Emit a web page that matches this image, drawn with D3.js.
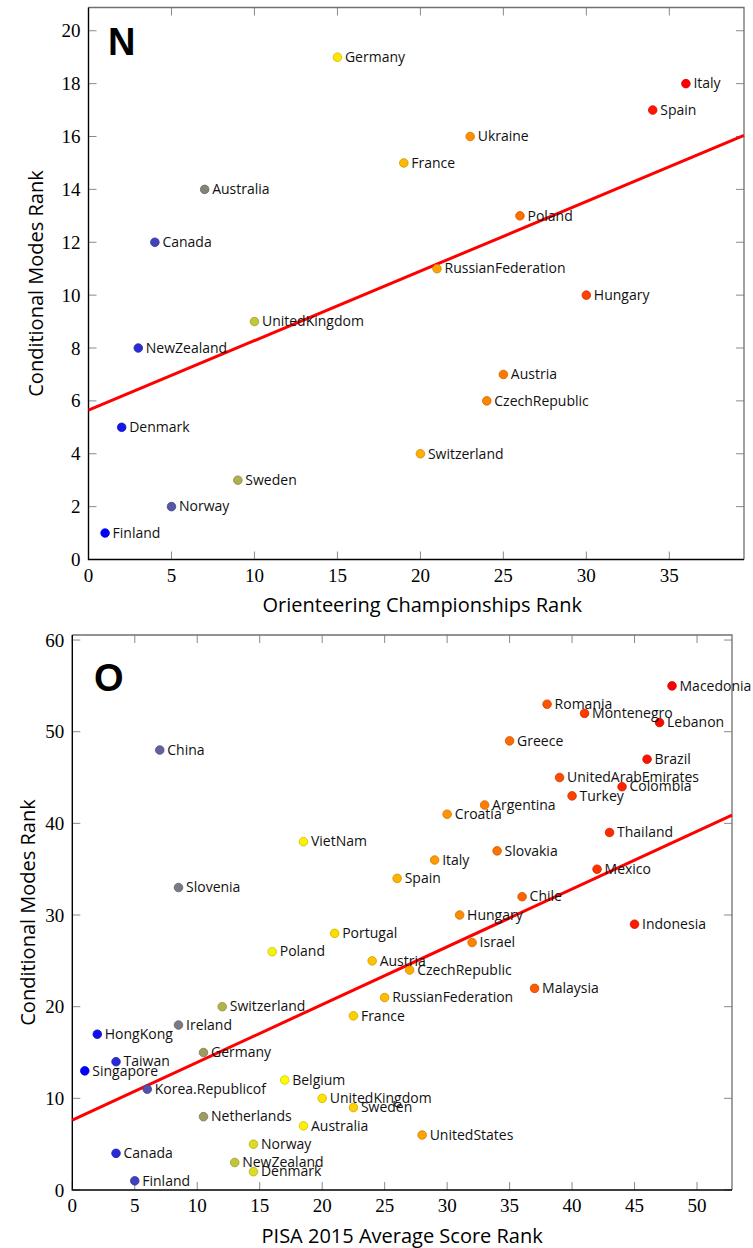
<!DOCTYPE html>
<html><head><meta charset="utf-8">
<script src="https://cdn.jsdelivr.net/npm/d3@7"></script>
<style>
body{margin:0;background:#fff;}
svg{display:block;}
.tick-lab{font-family:"Liberation Serif","Times New Roman",serif;font-size:19px;fill:#000;}
.pt-lab{font-family:"Open Sans","DejaVu Sans",sans-serif;font-size:14px;fill:#111;}
.ax-title{font-family:"Open Sans","DejaVu Sans",sans-serif;font-size:20px;fill:#000;}
.panel{font-family:"Liberation Sans",Arial,sans-serif;font-weight:bold;font-size:38px;fill:#000;}
</style></head>
<body>
<svg id="chart" width="753" height="1248"></svg>
<script>
// ---------- Panel N data ----------
const nCountries = ["Finland","Denmark","NewZealand","Canada","Norway","Australia","Sweden","UnitedKingdom","Germany","France","Switzerland","RussianFederation","Ukraine","CzechRepublic","Austria","Poland","Hungary","Spain","Italy"];
const nOrienteering = [1,2,3,4,5,7,9,10,15,19,20,21,23,24,25,26,30,34,36];
const nCondModes = [1,5,8,12,2,14,3,9,19,15,4,11,16,6,7,13,10,17,18];
const nXTicks = [0,5,10,15,20,25,30,35];
const nYTicks = [0,2,4,6,8,10,12,14,16,18,20];
const nFitX = [0,39.5];
const nFitY = [5.65,16.04];

// ---------- Panel O data ----------
const oCountries = ["Macedonia","Romania","Montenegro","Lebanon","Greece","Brazil","UnitedArabEmirates","Colombia","Turkey","Argentina","Croatia","Thailand","Slovakia","Italy","Mexico","Spain","Chile","Hungary","Indonesia","China","VietNam","Slovenia","Portugal","Poland","Austria","Israel","CzechRepublic","Malaysia","RussianFederation","France","Switzerland","Ireland","HongKong","Germany","Taiwan","Singapore","Belgium","Korea.Republicof","UnitedKingdom","Sweden","Netherlands","Australia","UnitedStates","Norway","Canada","NewZealand","Denmark","Finland"];
const oPisa = [48,38,41,47,35,46,39,44,40,33,30,43,34,29,42,26,36,31,45,7,18.5,8.5,21,16,24,32,27,37,25,22.5,12,8.5,2,10.5,3.5,1,17,6,20,22.5,10.5,18.5,28,14.5,3.5,13,14.5,5];
const oCondModes = [55,53,52,51,49,47,45,44,43,42,41,39,37,36,35,34,32,30,29,48,38,33,28,26,25,27,24,22,21,19,20,18,17,15,14,13,12,11,10,9,8,7,6,5,4,3,2,1];
const oXTicks = [0,5,10,15,20,25,30,35,40,45,50];
const oYTicks = [0,10,20,30,40,50,60];
const oFitX = [0,52.8];
const oFitY = [7.63,40.9];

// colormap stops (pgfplots-like: blue, yellow, orange, red)
const cmapColors = ["#0000ff","#ffff00","#ff8000","#ff0000"];

const svg = d3.select("#chart");

function drawPanel(cfg){
  const g = svg.append("g");
  const x = d3.scaleLinear().domain(cfg.xDomain).range([cfg.left,cfg.right]);
  const y = d3.scaleLinear().domain(cfg.yDomain).range([cfg.bottom,cfg.top]);
  const mn = d3.min(cfg.xs), mx = d3.max(cfg.xs), r = mx-mn;
  const cmap = d3.scaleLinear().domain([mn, mn+r/3, mn+2*r/3, mx]).range(cmapColors).interpolate(d3.interpolateRgb);

  // ticks (inside, all four sides)
  const tl = 8;
  const tickG = g.append("g").attr("stroke","#8a8a8a").attr("stroke-width",1);
  cfg.xTicks.forEach(t=>{
    tickG.append("line").attr("x1",x(t)).attr("x2",x(t)).attr("y1",cfg.bottom).attr("y2",cfg.bottom-tl);
    tickG.append("line").attr("x1",x(t)).attr("x2",x(t)).attr("y1",cfg.top).attr("y2",cfg.top+tl);
  });
  cfg.yTicks.forEach(t=>{
    tickG.append("line").attr("y1",y(t)).attr("y2",y(t)).attr("x1",cfg.left).attr("x2",cfg.left+tl);
    tickG.append("line").attr("y1",y(t)).attr("y2",y(t)).attr("x1",cfg.right).attr("x2",cfg.right-tl);
  });
  // frame: top/right gray, left/bottom black
  g.append("path").attr("d",`M${cfg.left},${cfg.top}H${cfg.right}V${cfg.bottom}`).attr("fill","none").attr("stroke","#707070").attr("stroke-width",1.3);
  g.append("path").attr("d",`M${cfg.left},${cfg.top}V${cfg.bottom}H${cfg.right}`).attr("fill","none").attr("stroke","#000").attr("stroke-width",1.4);

  // tick labels
  g.selectAll(".xl").data(cfg.xTicks).enter().append("text").attr("class","tick-lab")
    .attr("x",d=>x(d)).attr("y",cfg.bottom+22).attr("text-anchor","middle").text(d=>d);
  g.selectAll(".yl").data(cfg.yTicks).enter().append("text").attr("class","tick-lab")
    .attr("x",cfg.left-8).attr("y",d=>y(d)+6.5).attr("text-anchor","end").text(d=>d);

  // regression line
  g.append("line").attr("x1",x(cfg.fitX[0])).attr("y1",y(cfg.fitY[0])).attr("x2",x(cfg.fitX[1])).attr("y2",y(cfg.fitY[1]))
    .attr("stroke","#ff0000").attr("stroke-width",3);

  // points
  const data = cfg.names.map((n,i)=>({n, x:cfg.xs[i], y:cfg.ys[i]}));
  const pts = g.append("g");
  data.forEach(d=>{
    const c = cmap(d.x);
    pts.append("circle").attr("cx",x(d.x)).attr("cy",y(d.y)).attr("r",4.3)
      .attr("fill",c).attr("stroke",d3.interpolateRgb(c,"#000")(0.2)).attr("stroke-width",0.8);
  });
  data.forEach(d=>{
    pts.append("text").attr("class","pt-lab").attr("x",x(d.x)+7.5).attr("y",y(d.y)+4.8).text(d.n);
  });

  // titles
  g.append("text").attr("class","ax-title").attr("text-anchor","middle")
    .attr("x",(cfg.left+cfg.right)/2+cfg.xTitleDx).attr("y",cfg.xTitleY).text(cfg.xTitle);
  g.append("text").attr("class","ax-title").attr("text-anchor","middle")
    .attr("transform",`translate(${cfg.yTitleX},${(cfg.top+cfg.bottom)/2}) rotate(-90)`).text(cfg.yTitle);
  g.append("text").attr("class","panel").attr("x",cfg.panelX).attr("y",cfg.panelY).text(cfg.panel);
}

drawPanel({
  names:nCountries, xs:nOrienteering, ys:nCondModes,
  xDomain:[0,39.5], yDomain:[0,20.88],
  left:88.5, right:744, top:7.5, bottom:559.5,
  xTicks:nXTicks, yTicks:nYTicks, fitX:nFitX, fitY:nFitY,
  xTitle:"Orienteering Championships Rank", yTitle:"Conditional Modes Rank",
  xTitleY:612, xTitleDx:6, yTitleX:43, panel:"N", panelX:108, panelY:55
});
drawPanel({
  names:oCountries, xs:oPisa, ys:oCondModes,
  xDomain:[0,52.8], yDomain:[0,60.55],
  left:72.3, right:732, top:635, bottom:1190,
  xTicks:oXTicks, yTicks:oYTicks, fitX:oFitX, fitY:oFitY,
  xTitle:"PISA 2015 Average Score Rank", yTitle:"Conditional Modes Rank",
  xTitleY:1243, xTitleDx:0, yTitleX:35, panel:"O", panelX:94, panelY:691
});
</script>
</body></html>
